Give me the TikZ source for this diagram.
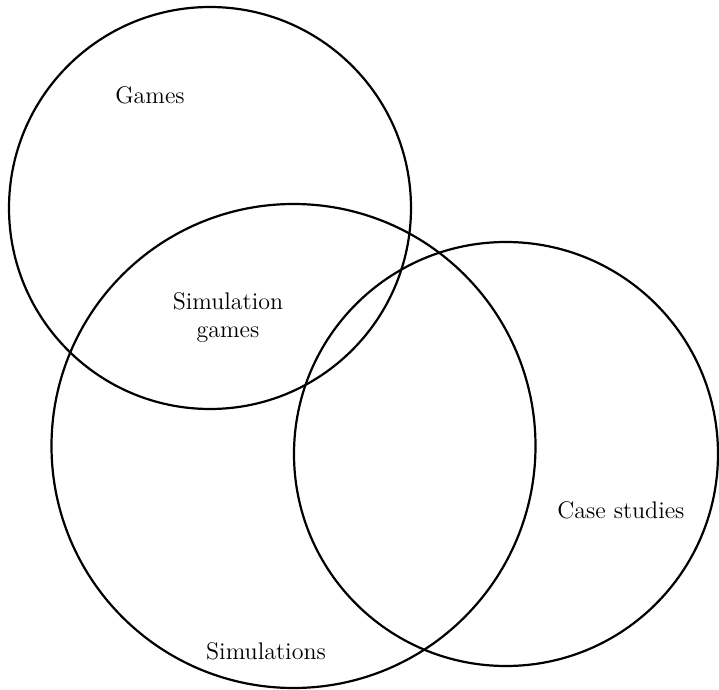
\documentclass[tikz,border=0pt]{standalone}
\begin{document}
\begin{tikzpicture}[x=0.5pt,y=-0.5pt,
  ring/.style={draw, line width=1.1pt},
  lbl/.style={align=center, inner sep=0pt, font=\large}]
\useasboundingbox (0,0) rectangle (719,690);
% centres of the three sets
\coordinate (gamesc) at (210,208);
\coordinate (simsc) at (293.5,446);
\coordinate (casesc) at (506,454);
\draw[ring] (gamesc) circle [radius=100.5pt];
\draw[ring] (simsc) circle [radius=121pt];
\draw[ring] (casesc) circle [radius=106pt];
% labels
\node[lbl] (games) at (150,95) {Games};
\node[lbl] (simgames) at (228,318) {Simulation\\games};
\node[lbl] (sims) at (266,651) {Simulations};
\node[lbl] (cases) at (621,510) {Case studies};
\end{tikzpicture}
\end{document}
